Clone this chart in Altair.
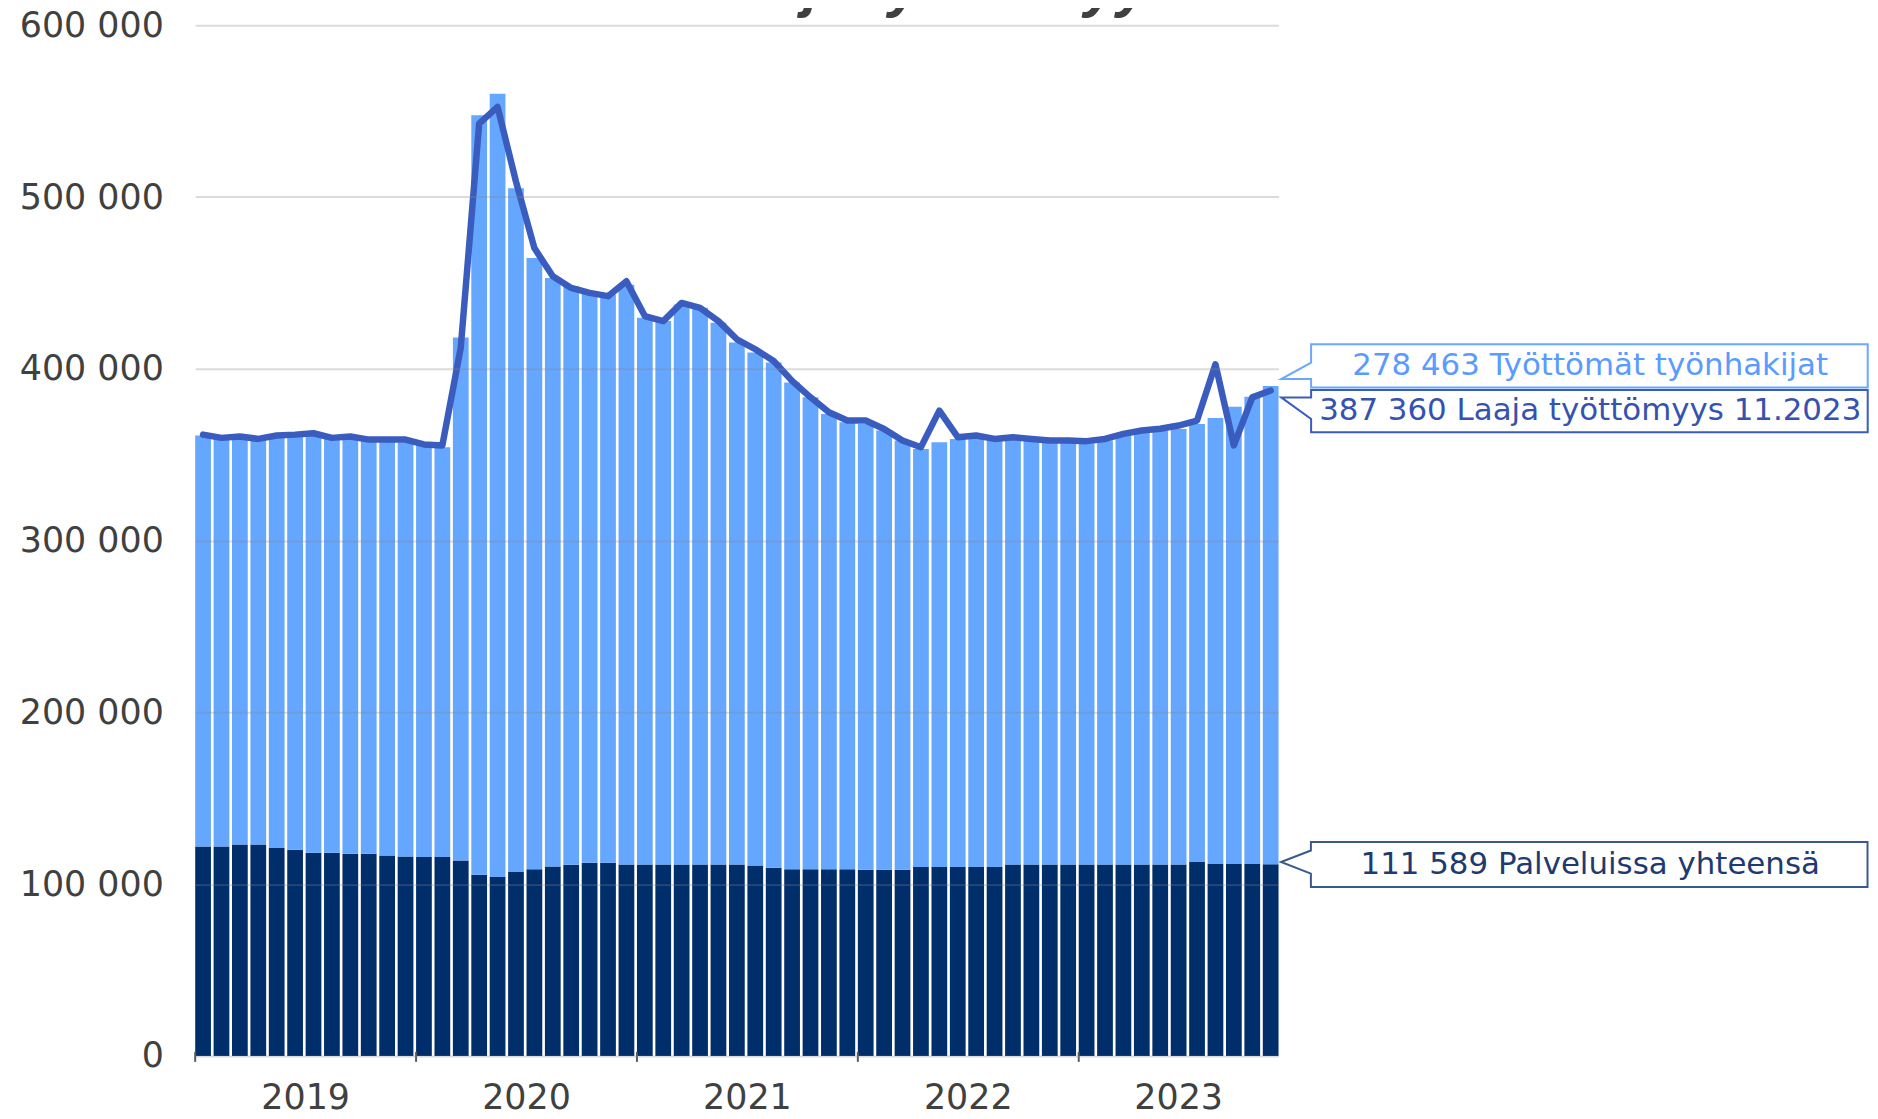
import altair as alt
import pandas as pd

# ---------------- data ----------------
months = [f"{y}-{m:02d}" for y in range(2019, 2024) for m in range(1, 13)][:59]

# Palveluissa yhteensä (dark bars)
palvelut = [
    121900, 121900, 123000, 123000, 121000, 120000, 118300, 118300, 117700, 117700, 116700, 116100,
    115800, 115800, 113800, 105500, 104200, 107100, 108600, 110300, 111300, 112500, 112500, 111500,
    111500, 111500, 111500, 111500, 111500, 111500, 110900, 109600, 108600, 108600, 108600, 108600,
    108400, 108400, 108400, 110000, 110000, 110000, 110000, 110000, 111500, 111500, 111500, 111500,
    111500, 111500, 111500, 111500, 111500, 111500, 112900, 111700, 111700, 111700, 111589,
]
# Työttömät työnhakijat (light bars, stacked on top)
tyonhakijat = [
    239300, 237300, 236200, 235300, 239200, 240600, 243800, 240900, 242500, 240600, 241200, 241200,
    240500, 238600, 304400, 442100, 456000, 398000, 355900, 342600, 336800, 332700, 330800, 337500,
    318300, 316300, 326000, 324000, 315400, 303800, 298600, 294100, 283400, 274800, 265100, 260300,
    259500, 255700, 249900, 243400, 247300, 249200, 250200, 248300, 247700, 246800, 245800, 245800,
    245200, 246800, 249700, 251600, 252600, 253500, 255000, 259700, 266300, 272100, 278463,
]
# Laaja työttömyys (line)
laaja = [
    361700, 359800, 360600, 359200, 361200, 361700, 362500, 359800, 360600, 358800, 358800, 358800,
    356000, 355400, 412400, 542800, 552500, 509000, 470300, 453900, 447100, 444200, 442300, 451000,
    430700, 427800, 438400, 435500, 427800, 417200, 411400, 404600, 393000, 383400, 374700, 369900,
    369900, 365000, 358300, 354400, 375700, 360200, 361200, 359200, 360200, 359200, 358300, 358300,
    357900, 359200, 362100, 364100, 365100, 367000, 369900, 402700, 355400, 383400, 387360,
]

year_starts = ["2019-01", "2020-01", "2021-01", "2022-01", "2023-01"]
full_years = ["2019", "2020", "2021", "2022"]
full_year_mid = ["2019-07", "2020-07", "2021-07", "2022-07"]
last_year = ["2023"]
last_year_mid = ["2023-06"]
y_ticks = [0, 100000, 200000, 300000, 400000, 500000, 600000]

title_text = "Laaja työttömyys"
last_label = "11.2023"


def fi(v):
    return f"{v:,}".replace(",", " ")


txt_tyon = f"{fi(tyonhakijat[-1])} Työttömät työnhakijat"
txt_laaja = f"{fi(laaja[-1])} Laaja työttömyys {last_label}"
txt_palv = f"{fi(palvelut[-1])} Palveluissa yhteensä"

df = pd.DataFrame({"kuukausi": months, "palvelut": palvelut,
                   "tyonhakijat": tyonhakijat, "laaja": laaja})

W, H = 1088, 1035
FONT = "DejaVu Sans"
GREY = "#404040"
LIGHT = "#65A6FF"
DARK = "#002E6B"
LINE = "#3A5CBE"

xscale = alt.Scale(domain=months, paddingInner=0.145, paddingOuter=0)
yscale = alt.Scale(domain=[0, 600000])

yaxis = alt.Axis(
    values=y_ticks,
    labelExpr="datum.value == 0 ? '0' : format(datum.value / 1000, 'd') + ' 000'",
    domain=False, ticks=False, labelPadding=32,
    labelFont=FONT, labelFontSize=35, labelColor=GREY,
    gridColor="#888888", gridOpacity=0.3, gridWidth=2, title=None, zindex=1,
)

base = alt.Chart(df)
X = alt.X("kuukausi:O", scale=xscale, axis=None)

dark = base.mark_bar(color=DARK).encode(
    x=X, y=alt.Y("palvelut:Q", scale=yscale, axis=yaxis))

light = base.transform_calculate(
    yhteensa="datum.palvelut + datum.tyonhakijat"
).mark_bar(color=LIGHT).encode(
    x=X, y=alt.Y("yhteensa:Q", scale=yscale), y2="palvelut:Q")

line = base.mark_line(color=LINE, strokeWidth=6.5, strokeJoin="round",
                      strokeCap="round").encode(
    x=X, y=alt.Y("laaja:Q", scale=yscale))

ticks = alt.Chart(pd.DataFrame({"kuukausi": year_starts})).mark_rule(
    color="#595959", strokeWidth=2).encode(
    x=alt.X("kuukausi:O", scale=xscale, axis=None, bandPosition=0),
    y=alt.value(H - 4), y2=alt.value(H + 6))

ylab1 = alt.Chart(pd.DataFrame({"vuosi": full_years, "kuukausi": full_year_mid})).mark_text(
    font=FONT, fontSize=35, color=GREY, baseline="middle", align="center").encode(
    x=alt.X("kuukausi:O", scale=xscale, axis=None, bandPosition=0),
    y=alt.value(H + 42), text="vuosi:N")

ylab2 = alt.Chart(pd.DataFrame({"vuosi": last_year, "kuukausi": last_year_mid})).mark_text(
    font=FONT, fontSize=35, color=GREY, baseline="middle", align="center").encode(
    x=alt.X("kuukausi:O", scale=xscale, axis=None, bandPosition=0.5),
    y=alt.value(H + 42), text="vuosi:N")

title = alt.Chart(pd.DataFrame({"t": [title_text]})).mark_text(
    font="Liberation Sans", fontSize=59, fontWeight="bold", fontStyle="italic",
    color=GREY, baseline="alphabetic", align="center").encode(
    x=alt.value(750), y=alt.value(-19), text="t:N")

# callout outlines (pixel paths, size=4 -> unit scale)
path1 = "M30,-16.6 L30,-35 L589,-35 L589,8.4 L30,8.4 L30,0 L0,0 Z"
path2 = "M0,0 L30,0 L30,-7.4 L589,-7.4 L589,35 L30,35 L30,21.6 Z"
path3 = "M0,0 L30,-11.6 L30,-20 L589,-20 L589,25 L30,25 L30,11.7 Z"


def callout(path, px, py, stroke, text, tx, ty, tcolor):
    d = pd.DataFrame({"t": [text]})
    shape = alt.Chart(d).mark_point(
        shape=path, size=4, filled=True, fill="white", stroke=stroke,
        strokeWidth=2, opacity=1, fillOpacity=1, strokeOpacity=1).encode(
        x=alt.value(px), y=alt.value(py))
    label = alt.Chart(d).mark_text(
        font=FONT, fontSize=31, color=tcolor, baseline="middle", align="center").encode(
        x=alt.value(tx), y=alt.value(ty), text="t:N")
    return shape + label


c1 = callout(path1, 1090.7, 355.3, "#6AA8FF", txt_tyon, 1401, 342.5, "#5B9BFF")
c2 = callout(path2, 1090.7, 373.7, "#3A5CBE", txt_laaja, 1401, 387.5, "#3552B0")
c3 = callout(path3, 1090.5, 840.3, "#3B5A8C", txt_palv, 1401, 843, "#1E3A70")

chart = alt.layer(dark, light, line, ticks, ylab1, ylab2, title, c1, c2, c3).properties(
    width=W, height=H,
    autosize=alt.AutoSizeParams(type="none"),
    padding={"left": 188, "top": 15, "right": 594, "bottom": 64},
    background="white",
).configure_view(stroke=None)

chart.save("out.html", embed_options={"renderer": "svg", "actions": False})
